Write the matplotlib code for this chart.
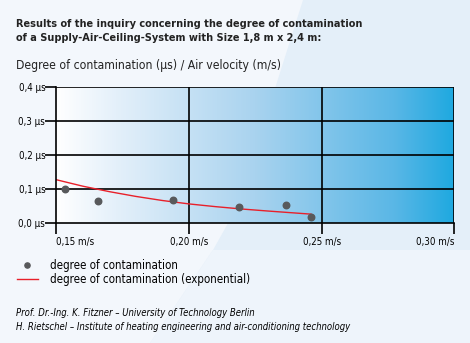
import matplotlib
matplotlib.use("Agg")
import matplotlib.pyplot as plt
import numpy as np
from matplotlib.colors import LinearSegmentedColormap
from matplotlib.patches import Polygon

plt.rcParams['font.family'] = ['DejaVu Sans']
plt.rcParams['font.stretch'] = 'condensed'

# measured contamination values
velocity = [0.1533, 0.1656, 0.194, 0.219, 0.2367, 0.246]
contamination = [0.101, 0.065, 0.067, 0.047, 0.054, 0.018]

# exponential trend line
trend_v = [0.150, 0.160, 0.170, 0.180, 0.190, 0.200, 0.210, 0.220, 0.230, 0.246]
trend_c = [0.127, 0.108, 0.092, 0.078, 0.066, 0.056, 0.048, 0.041, 0.035, 0.026]

xticks = [0.15, 0.20, 0.25, 0.30]
xlabels = ['0,15 m/s', '0,20 m/s', '0,25 m/s', '0,30 m/s']
yticks = [0.0, 0.1, 0.2, 0.3, 0.4]
ylabels = ['0,0 µs', '0,1 µs', '0,2 µs', '0,3 µs', '0,4 µs']

W, H = 470, 343
fig = plt.figure(figsize=(W / 100, H / 100), dpi=100)
fig.patch.set_facecolor('#f3f7fc')

# background: lighter left part, bluish right part split by a slanted edge
bg = fig.add_axes([0, 0, 1, 1])
bg.set_xlim(0, W)
bg.set_ylim(H, 0)
bg.axis('off')
bg.add_patch(Polygon([(303, 0), (W, 0), (W, 343), (150, 343), (213, 250),
                      (227, 225), (265, 120)],
                     closed=True, facecolor='#e4eff9', edgecolor='none'))
bg.add_patch(Polygon([(213, 250), (W, 250), (W, 343), (150, 343)],
                     closed=True, facecolor='#eef4fb', edgecolor='none'))

ax = fig.add_axes([56.3 / W, 1 - 223 / H, (454.3 - 56.3) / W, (223 - 86.7) / H])
ax.set_xlim(0.15, 0.30)
ax.set_ylim(0.0, 0.4)

# white to blue gradient inside the plotting area
cmap = LinearSegmentedColormap.from_list(
    'bg', [(0, '#ffffff'), (0.15, '#e4f0fa'), (0.5, '#a9d3ef'),
           (0.85, '#5ab7e6'), (1, '#1fa9e0')])
grad = np.linspace(0, 1, 256).reshape(1, -1)
ax.imshow(grad, extent=[0.15, 0.30, 0.0, 0.4], aspect='auto', cmap=cmap,
          zorder=0)

for y in yticks[1:]:
    ax.axhline(y, color='black', lw=1.2, zorder=1)
for x in xticks[1:]:
    ax.axvline(x, color='black', lw=1.2, zorder=1)

ax.plot(trend_v, trend_c, color='#e8202a', lw=1.0, zorder=2)
ax.scatter(velocity, contamination, s=22, color='#58595b', zorder=3)

for s in ['top', 'right']:
    ax.spines[s].set_visible(False)
ax.spines['left'].set_linewidth(1.2)
ax.spines['bottom'].set_linewidth(1.2)
ax.set_xticks(xticks)
ax.set_xticklabels(xlabels)
ax.set_yticks(yticks)
ax.set_yticklabels(ylabels)
ax.tick_params(axis='both', length=8, width=1.2, labelsize=7, colors='black')
ax.tick_params(axis='x', pad=2)
ax.tick_params(axis='y', pad=0)
ax.set_facecolor('none')
# first label starts at its tick, last one ends at its tick
ax.get_xticklabels()[0].set_horizontalalignment('left')
ax.get_xticklabels()[-1].set_horizontalalignment('right')

# titles
fig.text(16 / W, 1 - 24 / H, 'Results of the inquiry concerning the degree of contamination',
         fontsize=7.8, fontweight='bold', va='center', color='#222222')
fig.text(16 / W, 1 - 38 / H, 'of a Supply-Air-Ceiling-System with Size 1,8 m x 2,4 m:',
         fontsize=7.8, fontweight='bold', va='center', color='#222222')
fig.text(16 / W, 1 - 65 / H, 'Degree of contamination (µs) / Air velocity (m/s)',
         fontsize=8.75, va='center', color='#222222')

# legend
bg.scatter([27], [265], s=14, color='#58595b')
bg.plot([17, 38], [279, 279], color='#e8202a', lw=1.0)
fig.text(50 / W, 1 - 265 / H, 'degree of contamination', fontsize=8.3, va='center')
fig.text(50 / W, 1 - 280 / H, 'degree of contamination (exponential)', fontsize=8.3,
         va='center')

# source
fig.text(16 / W, 1 - 313 / H, 'Prof. Dr.-Ing. K. Fitzner – University of Technology Berlin',
         fontsize=6.85, style='italic', va='center')
fig.text(16 / W, 1 - 327 / H,
         'H. Rietschel – Institute of heating engineering and air-conditioning technology',
         fontsize=6.85, style='italic', va='center')

fig.savefig('out.png', dpi=100)
